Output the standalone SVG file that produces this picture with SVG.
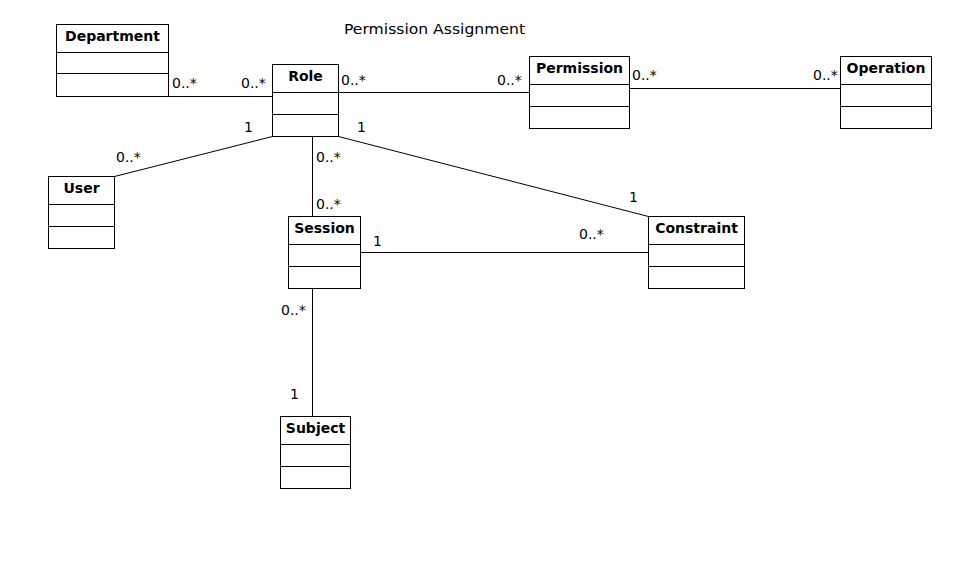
<svg xmlns="http://www.w3.org/2000/svg" width="979" height="567" viewBox="0 0 979 567">
<style>
.box{fill:#fff;stroke:#000;stroke-width:1}
.div{stroke:#000;stroke-width:1}
.hd{font-family:"DejaVu Sans",sans-serif;font-weight:bold;font-size:14px;text-anchor:middle;fill:#000}
.lb{font-family:"DejaVu Sans",sans-serif;font-size:14px;fill:#000}
.cn{stroke:#000;stroke-width:1;fill:none}
</style>
<rect width="979" height="567" fill="#fff"/>
<text class="lb" x="344" y="34" textLength="181" lengthAdjust="spacingAndGlyphs">Permission Assignment</text>
<g id="connectors">
<line class="cn" x1="168.5" y1="96.5" x2="272.5" y2="96.5"/>
<line class="cn" x1="338.5" y1="92.5" x2="529.5" y2="92.5"/>
<line class="cn" x1="629.5" y1="88.5" x2="840.5" y2="88.5"/>
<line class="cn" x1="272.5" y1="136.5" x2="114.5" y2="176.5"/>
<line class="cn" x1="312.5" y1="136.5" x2="312.5" y2="216.5"/>
<line class="cn" x1="338.5" y1="136.5" x2="648.5" y2="216.5"/>
<line class="cn" x1="360.5" y1="252.5" x2="648.5" y2="252.5"/>
<line class="cn" x1="312.5" y1="288.5" x2="312.5" y2="416.5"/>
<text class="lb" x="172" y="88">0..*</text>
<text class="lb" x="241" y="88">0..*</text>
<text class="lb" x="244" y="132">1</text>
<text class="lb" x="341" y="85">0..*</text>
<text class="lb" x="497" y="85">0..*</text>
<text class="lb" x="357" y="132">1</text>
<text class="lb" x="632" y="80">0..*</text>
<text class="lb" x="813" y="80">0..*</text>
<text class="lb" x="116" y="162">0..*</text>
<text class="lb" x="316" y="162">0..*</text>
<text class="lb" x="316" y="209">0..*</text>
<text class="lb" x="373" y="246">1</text>
<text class="lb" x="579" y="239">0..*</text>
<text class="lb" x="629" y="202">1</text>
<text class="lb" x="281" y="315">0..*</text>
<text class="lb" x="290" y="399">1</text>
</g>
<g id="department">
<rect class="box" x="56.5" y="24.5" width="112" height="72"/>
<line class="div" x1="56.5" y1="52.5" x2="168.5" y2="52.5"/>
<line class="div" x1="56.5" y1="73.5" x2="168.5" y2="73.5"/>
<text class="hd" x="112.5" y="41">Department</text>
</g>
<g id="role">
<rect class="box" x="272.5" y="64.5" width="66" height="72"/>
<line class="div" x1="272.5" y1="92.5" x2="338.5" y2="92.5"/>
<line class="div" x1="272.5" y1="114.5" x2="338.5" y2="114.5"/>
<text class="hd" x="305.5" y="81">Role</text>
</g>
<g id="permission">
<rect class="box" x="529.5" y="56.5" width="100" height="72"/>
<line class="div" x1="529.5" y1="84.5" x2="629.5" y2="84.5"/>
<line class="div" x1="529.5" y1="106.5" x2="629.5" y2="106.5"/>
<text class="hd" x="579.5" y="73">Permission</text>
</g>
<g id="operation">
<rect class="box" x="840.5" y="56.5" width="91" height="72"/>
<line class="div" x1="840.5" y1="84.5" x2="931.5" y2="84.5"/>
<line class="div" x1="840.5" y1="106.5" x2="931.5" y2="106.5"/>
<text class="hd" x="886" y="73">Operation</text>
</g>
<g id="user">
<rect class="box" x="48.5" y="176.5" width="66" height="72"/>
<line class="div" x1="48.5" y1="204.5" x2="114.5" y2="204.5"/>
<line class="div" x1="48.5" y1="226.5" x2="114.5" y2="226.5"/>
<text class="hd" x="81.5" y="193">User</text>
</g>
<g id="session">
<rect class="box" x="288.5" y="216.5" width="72" height="72"/>
<line class="div" x1="288.5" y1="244.5" x2="360.5" y2="244.5"/>
<line class="div" x1="288.5" y1="266.5" x2="360.5" y2="266.5"/>
<text class="hd" x="324.5" y="233">Session</text>
</g>
<g id="constraint">
<rect class="box" x="648.5" y="216.5" width="96" height="72"/>
<line class="div" x1="648.5" y1="244.5" x2="744.5" y2="244.5"/>
<line class="div" x1="648.5" y1="266.5" x2="744.5" y2="266.5"/>
<text class="hd" x="696.5" y="233">Constraint</text>
</g>
<g id="subject">
<rect class="box" x="280.5" y="416.5" width="70" height="72"/>
<line class="div" x1="280.5" y1="444.5" x2="350.5" y2="444.5"/>
<line class="div" x1="280.5" y1="466.5" x2="350.5" y2="466.5"/>
<text class="hd" x="315.5" y="433">Subject</text>
</g>
</svg>
